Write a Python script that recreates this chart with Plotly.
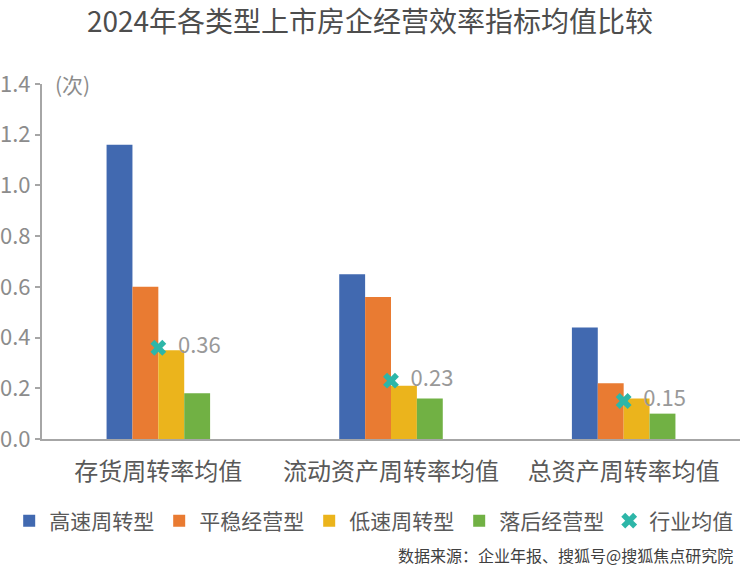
import plotly.graph_objects as go

# data
categories = ['存货周转率均值', '流动资产周转率均值', '总资产周转率均值']
series_names = ['高速周转型', '平稳经营型', '低速周转型', '落后经营型']
high_turnover = [1.16, 0.65, 0.44]
stable_ops = [0.60, 0.56, 0.22]
low_turnover = [0.35, 0.21, 0.16]
lagging_ops = [0.18, 0.16, 0.10]
industry_avg = [0.36, 0.23, 0.15]
industry_labels = ['0.36', '0.23', '0.15']

colors = ['#4169B0', '#E97B32', '#EBB41C', '#71B144']
font_family = 'Noto Sans CJK SC'

fig = go.Figure()
for name, vals, col in zip(series_names,
                           [high_turnover, stable_ops, low_turnover, lagging_ops],
                           colors):
    fig.add_trace(go.Bar(
        x=categories, y=vals, name=name,
        marker=dict(color=col, line=dict(width=0)),
    ))

# industry average markers sit at the category centre
fig.add_trace(go.Scatter(
    x=categories, y=industry_avg, name='行业均值',
    mode='markers+text',
    marker=dict(symbol='x', size=14, color='#2DB6A8', line=dict(width=0)),
    text=industry_labels, texttemplate='  %{text}', textposition='middle right',
    textfont=dict(size=22, color='#999999', family=font_family),
))

fig.update_layout(
    width=740, height=574,
    plot_bgcolor='white', paper_bgcolor='white',
    font=dict(family=font_family, color='#595959'),
    title=dict(text='2024年各类型上市房企经营效率指标均值比较',
               x=0.5, xanchor='center', y=0.962, yanchor='middle',
               font=dict(size=28, color='#4D4D4D', family=font_family)),
    barmode='group', bargap=0.555, bargroupgap=0,
    margin=dict(l=42, r=0, t=84, b=135, autoexpand=False),
    showlegend=True,
    # x<0 and y<0 lets a horizontal legend use the full page width
    legend=dict(orientation='h', x=-0.047, xanchor='left', y=-0.231, yanchor='middle',
                font=dict(size=21, color='#595959'), itemwidth=30,
                traceorder='normal'),
    xaxis=dict(showline=True, linecolor='#A6A6A6', linewidth=2, ticks='',
               ticklabelstandoff=10,
               tickfont=dict(size=24, color='#595959'), showgrid=False),
    yaxis=dict(range=[0, 1.4], dtick=0.2, tickformat='.1f',
               showline=True, linecolor='#A6A6A6', linewidth=2,
               ticks='outside', ticklen=5, tickcolor='#A6A6A6', tickwidth=2,
               tickfont=dict(size=22, color='#8C8C8C'), showgrid=False,
               zeroline=False),
)

fig.add_annotation(text='(次)', xref='paper', yref='y', x=0.016, y=1.4,
                   xanchor='left', yanchor='middle', showarrow=False,
                   font=dict(size=21, color='#8C8C8C', family=font_family))

fig.add_annotation(text='数据来源：企业年报、搜狐号@搜狐焦点研究院', xref='paper', yref='paper',
                   x=0.993, y=-0.327, xanchor='right', yanchor='middle', showarrow=False,
                   font=dict(size=16, color='#404040', family=font_family))

# drop the default page margin so the chart sits at the window corner
fig.write_html('out.html', config={'displayModeBar': False},
               post_script="document.body.style.margin='0';")
